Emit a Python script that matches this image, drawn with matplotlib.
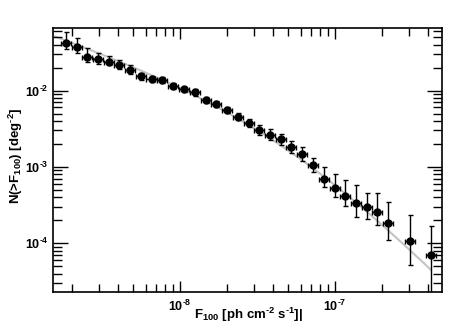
import numpy as np
import matplotlib
matplotlib.use("Agg")
import matplotlib.pyplot as plt
from matplotlib.ticker import FixedLocator, FuncFormatter, NullFormatter

plt.rcParams['font.family'] = ['Liberation Sans', 'DejaVu Sans']
plt.rcParams['font.weight'] = 'bold'
plt.rcParams['mathtext.fontset'] = 'custom'
plt.rcParams['mathtext.rm'] = 'Liberation Sans:bold'
plt.rcParams['mathtext.bf'] = 'Liberation Sans:bold'
plt.rcParams['mathtext.it'] = 'Liberation Sans:bold'
plt.rcParams['mathtext.default'] = 'bf'

# data (log10 values)
logF = [-8.737, -8.666, -8.598, -8.529, -8.460, -8.392, -8.323, -8.252, -8.183, -8.114,
        -8.045, -7.976, -7.905, -7.834, -7.766, -7.697, -7.628, -7.557, -7.488, -7.419,
        -7.350, -7.282, -7.213, -7.140, -7.071, -7.002, -6.934, -6.865, -6.795, -6.727,
        -6.656, -6.518, -6.381]
logN = [-1.371, -1.431, -1.558, -1.588, -1.620, -1.663, -1.729, -1.811, -1.847, -1.860,
        -1.942, -1.982, -2.021, -2.118, -2.178, -2.253, -2.341, -2.419, -2.511, -2.577,
        -2.637, -2.738, -2.826, -2.980, -3.161, -3.271, -3.376, -3.472, -3.524, -3.586,
        -3.734, -3.974, -4.150]
logN_hi = [-1.227, -1.305, -1.445, -1.502, -1.541, -1.598, -1.663, -1.772, -1.807, -1.824,
           -1.903, -1.955, -1.978, -2.083, -2.135, -2.218, -2.296, -2.367, -2.450, -2.506,
           -2.564, -2.659, -2.734, -2.882, -3.003, -3.095, -3.174, -3.236, -3.345, -3.345,
           -3.463, -3.630, -3.778]
logN_lo = [-1.457, -1.510, -1.620, -1.654, -1.667, -1.712, -1.777, -1.860, -1.886, -1.903,
           -1.978, -2.021, -2.066, -2.157, -2.218, -2.296, -2.384, -2.480, -2.581, -2.646,
           -2.708, -2.813, -2.925, -3.068, -3.266, -3.397, -3.511, -3.659, -3.685, -3.764,
           -3.961, -4.288, -4.700]
bin_halfwidth_dex = 0.033

# smoothly broken power-law model for the cumulative counts
model_logK = -2.310
model_g_lo = 0.7
model_g_hi = 2.1
model_logFb = -7.31
model_d = 1.1
model_range = (-8.806, -6.381)

# axis ranges (log10) and tick decades
xlim_log = (-8.819, -6.31)
ylim_log = (-4.64, -1.18)
x_decades = [-9, -8, -7, -6]
y_decades = [-5, -4, -3, -2, -1]

F = 10 ** np.array(logF)
N = 10 ** np.array(logN)
Nhi = 10 ** np.array(logN_hi)
Nlo = 10 ** np.array(logN_lo)
xerr = [F - F * 10 ** (-bin_halfwidth_dex), F * 10 ** bin_halfwidth_dex - F]
yerr = [N - Nlo, Nhi - N]

lx = np.linspace(model_range[0], model_range[1], 300)
u = lx - model_logFb
ly = (model_logK - model_g_lo * u
      - (model_g_hi - model_g_lo) * model_d * np.log10(1 + 10 ** (u / model_d)))

fig = plt.figure(figsize=(4.54, 3.31), dpi=100)
ax = fig.add_axes([0.1167, 0.1178, 0.8569, 0.7976])
ax.set_xscale('log')
ax.set_yscale('log')
ax.plot(10 ** lx, 10 ** ly, color='#c4c4c4', lw=1.5, zorder=1)
ax.errorbar(F, N, xerr=xerr, yerr=yerr, fmt='o', color='black', ms=5,
            elinewidth=1.0, capsize=1.8, capthick=1.0, zorder=2)

ax.set_xlim(10 ** xlim_log[0], 10 ** xlim_log[1])
ax.set_ylim(10 ** ylim_log[0], 10 ** ylim_log[1])

def fmt(v, pos):
    e = int(round(np.log10(v)))
    return r'10$^{\text{-}%d}$' % abs(e)

for axis, decs in ((ax.xaxis, x_decades), (ax.yaxis, y_decades)):
    majors = [10.0 ** d for d in decs]
    minors = [m * 10.0 ** d for d in decs for m in range(2, 10)]
    axis.set_major_locator(FixedLocator(majors))
    axis.set_minor_locator(FixedLocator(minors))
    axis.set_major_formatter(FuncFormatter(fmt))
    axis.set_minor_formatter(NullFormatter())

ax.tick_params(which='both', direction='in', top=True, right=True, width=1.0,
               labelsize=9, color='black')
ax.tick_params(axis='x', which='major', length=8, pad=5)
ax.tick_params(axis='x', which='minor', length=5.5, width=1.0)
ax.tick_params(axis='y', which='major', length=11, pad=3)
ax.tick_params(axis='y', which='minor', length=6.5)
for s in ax.spines.values():
    s.set_linewidth(1.2)

fig.text(0.548, 0.050, r'F$_{100}$ [ph cm$^{\text{-}2}$ s$^{\text{-}1}$]|',
         fontsize=9.5, fontweight='bold', ha='center', va='center')
fig.text(0.034, 0.530, r'N(>F$_{100}$) [deg$^{\text{-}2}$]',
         fontsize=9.5, fontweight='bold', ha='center', va='center', rotation=90)

fig.savefig('out.png', dpi=100)
